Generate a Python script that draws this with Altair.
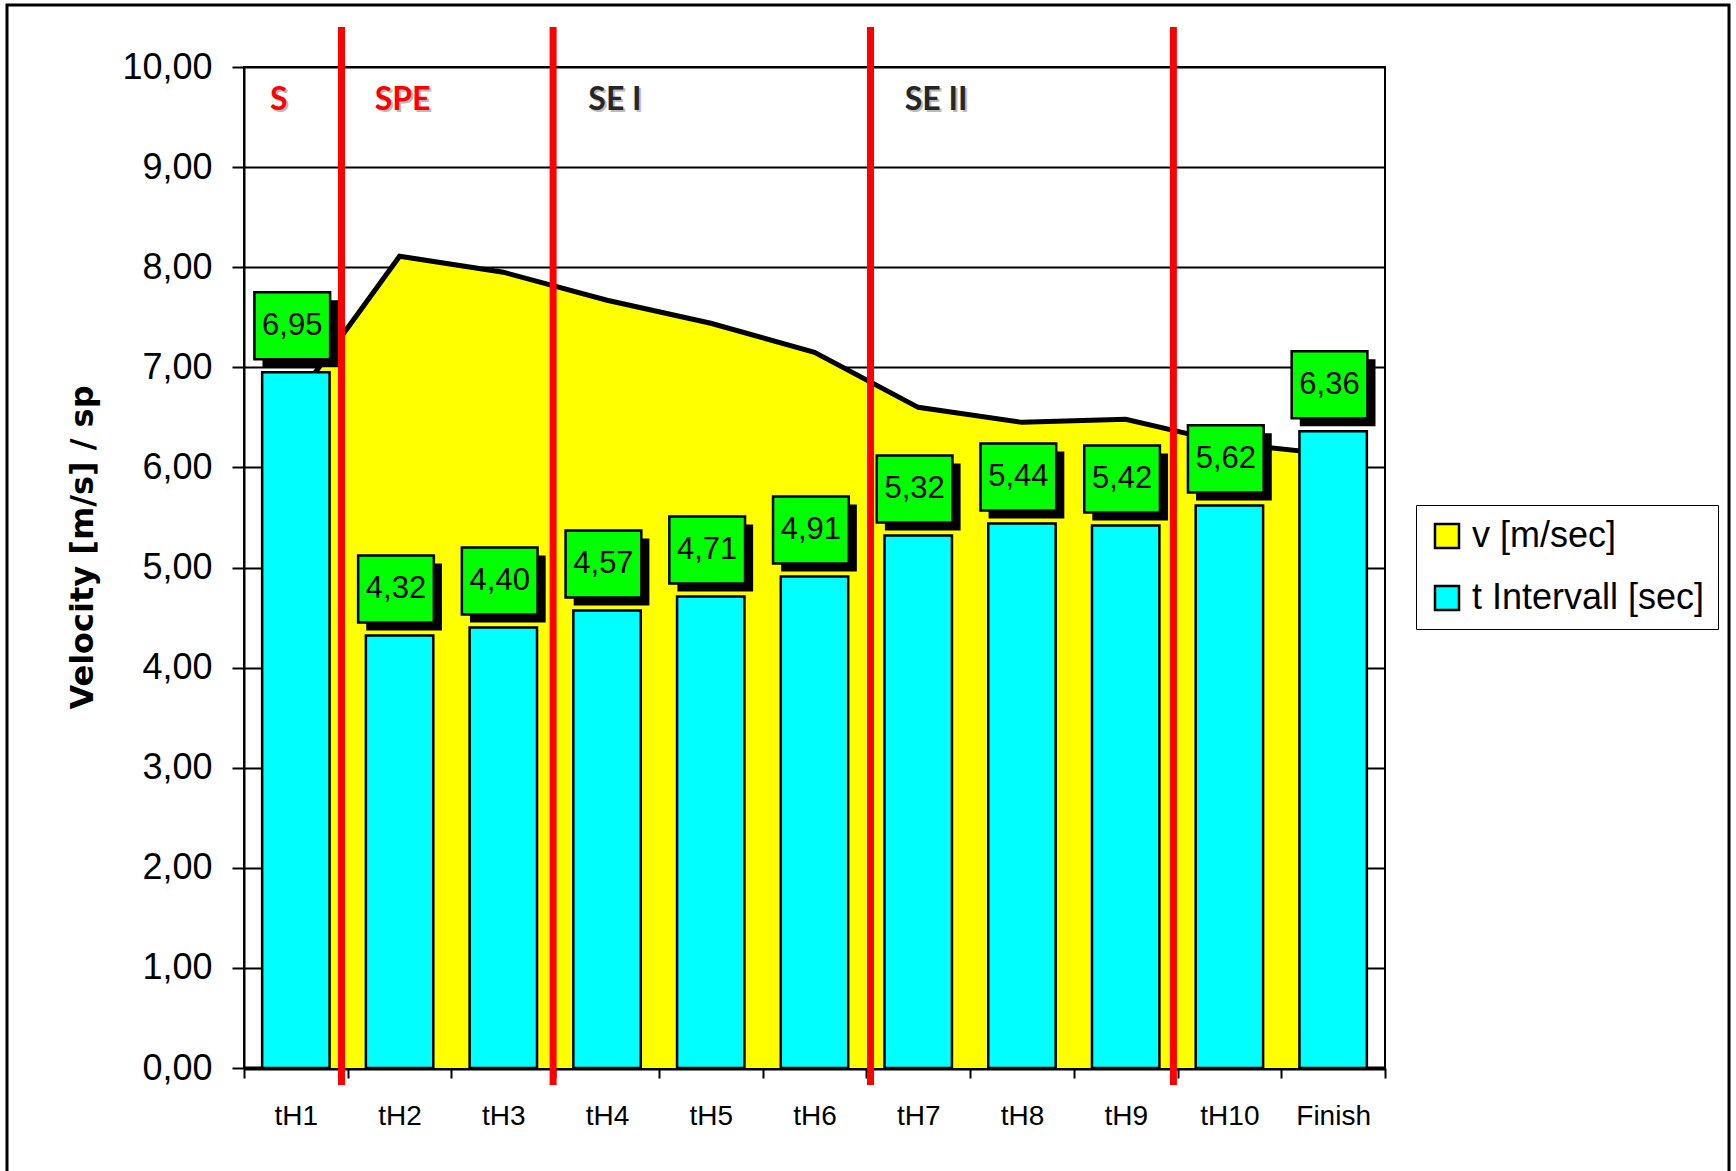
import altair as alt
import pandas as pd

# ---------------- data ----------------
categories = ["tH1", "tH2", "tH3", "tH4", "tH5", "tH6", "tH7", "tH8", "tH9", "tH10", "Finish"]
t_interval = [6.95, 4.32, 4.40, 4.57, 4.71, 4.91, 5.32, 5.44, 5.42, 5.62, 6.36]
velocity = [6.68, 8.11, 7.95, 7.67, 7.44, 7.15, 6.60, 6.45, 6.48, 6.24, 6.13]
series_names = ["v [m/sec]", "t Intervall [sec]"]
series_colors = ["#FFFF00", "#00FFFF"]
section_red = ["S", "SPE"]
section_red_pos = [-0.25, 0.76]
section_dark = ["SE I", "SE II"]
section_dark_pos = [2.82, 5.87]
section_level = 9.67
divider_pos = [0.44, 2.48, 5.54, 8.46]
y_ticks = [0, 1, 2, 3, 4, 5, 6, 7, 8, 9, 10]

W, H = 1141, 1001
LEFT, TOP = 244, 67

df_v = pd.DataFrame({"cat": categories, "v": velocity, "series": series_names[0]})
df_t = pd.DataFrame({"cat": categories, "t": t_interval, "series": series_names[1]})
df_t["zero"] = 0.0
df_t["label"] = [f"{x:.2f}".replace(".", ",") for x in t_interval]
df_t["box_lo"] = df_t["t"] + 0.13
df_t["box_hi"] = df_t["t"] + 0.80
df_t["box_mid"] = df_t["t"] + 0.465

df_red = pd.DataFrame({"pos": section_red_pos, "name": section_red, "yv": section_level})
df_dark = pd.DataFrame({"pos": section_dark_pos, "name": section_dark, "yv": section_level})
df_div = pd.DataFrame({"pos": divider_pos})
df_one = pd.DataFrame({"a": [0]})

# ---------------- shared encodings ----------------
x_axis = alt.Axis(title=None, tickBand="extent", labelAngle=0, labelFont="Liberation Sans",
                  labelFontSize=28, labelPadding=24, labelColor="black", tickSize=10,
                  tickWidth=2, tickColor="black", domainColor="black", domainWidth=4, grid=False)
x_scale = alt.Scale(domain=categories, paddingInner=0, paddingOuter=0)


def xb():
    return alt.X("cat:N", sort=categories, scale=x_scale, axis=x_axis)


y_scale = alt.Scale(domain=[0, 10], nice=False, zero=True)
y_axis = alt.Axis(title="Velocity [m/s] / sp", values=y_ticks,
                  labelExpr="replace(format(datum.value, '.2f'), '.', ',')",
                  labelFont="Liberation Sans", labelFontSize=36, labelColor="black",
                  labelPadding=20, tickSize=12, tickWidth=2, tickColor="black",
                  domainColor="black", domainWidth=2, grid=True, gridColor="black",
                  gridWidth=2, gridOpacity=1, titleFont="DejaVu Sans", titleFontSize=32,
                  titleFontWeight="bold", titleColor="black", titlePadding=22, titleY=480)


def yq(field):
    return alt.Y(field, scale=y_scale, axis=y_axis)


color_enc = alt.Color("series:N", title=None,
                      scale=alt.Scale(domain=series_names, range=series_colors),
                      legend=alt.Legend(orient="none", legendX=1172, legendY=438,
                                        symbolType="square", symbolSize=576,
                                        symbolStrokeColor="black", symbolStrokeWidth=2.5,
                                        labelFont="Liberation Sans", labelFontSize=36,
                                        labelColor="black", labelOffset=7,
                                        strokeColor="black", fillColor="white",
                                        padding=13, rowPadding=26, labelLimit=400))

# ---------------- band layers ----------------
area = alt.Chart(df_v).mark_area().encode(x=xb(), y=yq("v:Q"), color=color_enc)
line = alt.Chart(df_v).mark_line(color="black", strokeWidth=5).encode(x=xb(), y=yq("v:Q"))
bars = alt.Chart(df_t).mark_bar(stroke="black", strokeWidth=2.5, width={"band": 0.65}).encode(
    x=xb(), y=yq("t:Q"), y2="zero:Q", color=color_enc)
shadow = alt.Chart(df_t).mark_bar(color="black", width={"band": 0.73}, xOffset=4.5,
                                  yOffset=8, y2Offset=8).encode(
    x=xb(), y=yq("box_hi:Q"), y2="box_lo:Q")
boxes = alt.Chart(df_t).mark_bar(color="#00FF00", stroke="black", strokeWidth=2.5,
                                 width={"band": 0.73}, xOffset=-3.6).encode(
    x=xb(), y=yq("box_hi:Q"), y2="box_lo:Q")
labels = alt.Chart(df_t).mark_text(font="Liberation Sans", fontSize=31, color="black",
                                   dx=-3.6, baseline="middle").encode(
    x=xb(), y=yq("box_mid:Q"), text="label:N")

band_layer = alt.layer(area, line, bars, shadow, boxes, labels)

# ---------------- quantitative overlay layers ----------------
xq_scale = alt.Scale(domain=[-0.5, 10.5], nice=False, zero=False)


def xq():
    return alt.X("pos:Q", scale=xq_scale, axis=None)


dividers = alt.Chart(df_div).mark_rule(color="#FF0000", strokeWidth=7).encode(
    x=xq(), y=alt.value(-40), y2=alt.value(1018))

sec_font = dict(font="Lato", fontSize=32, fontWeight="bold", align="left", baseline="middle")
red_sh = alt.Chart(df_red).mark_text(color="#BBBBBB", dx=2, dy=2, **sec_font).encode(
    x=xq(), y=yq("yv:Q"), text="name:N")
red_tx = alt.Chart(df_red).mark_text(color="#FF0000", **sec_font).encode(
    x=xq(), y=yq("yv:Q"), text="name:N")
dark_sh = alt.Chart(df_dark).mark_text(color="#BBBBBB", dx=2, dy=2, **sec_font).encode(
    x=xq(), y=yq("yv:Q"), text="name:N")
dark_tx = alt.Chart(df_dark).mark_text(color="#262626", **sec_font).encode(
    x=xq(), y=yq("yv:Q"), text="name:N")

frame = alt.Chart(df_one).mark_rect(fill="transparent", stroke="black", strokeWidth=3).encode(
    x=alt.value(7 - LEFT), x2=alt.value(1729 - LEFT),
    y=alt.value(5 - TOP), y2=alt.value(1171 - TOP + 30))

quant_layer = alt.layer(dividers, red_sh, red_tx, dark_sh, dark_tx)

chart = alt.layer(band_layer, quant_layer, frame).resolve_scale(x="independent").properties(
    width=W, height=H,
    autosize=alt.AutoSizeParams(type="none"),
    padding={"left": LEFT, "top": TOP, "right": 1736 - LEFT - W, "bottom": 1171 - TOP - H},
    background="white",
).configure_view(stroke="black", strokeWidth=2)

chart.save("out.html", embed_options={"renderer": "svg", "actions": False})
